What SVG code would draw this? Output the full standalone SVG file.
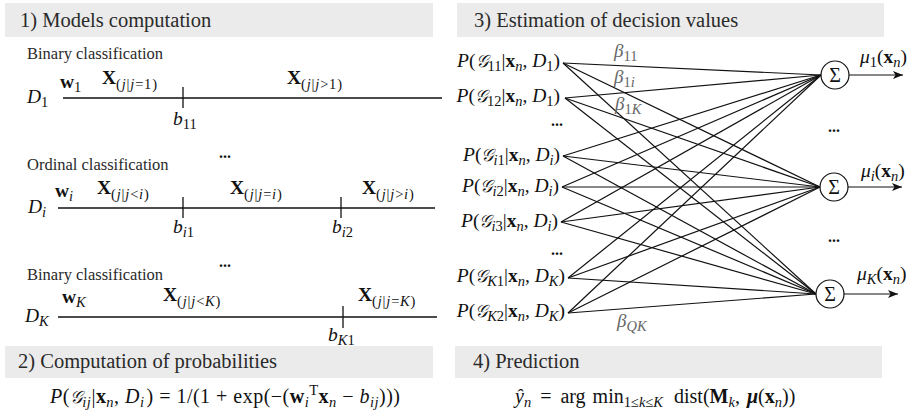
<svg xmlns="http://www.w3.org/2000/svg" width="915" height="417" viewBox="0 0 915 417">
<style>
text{font-family:"Liberation Serif","Times New Roman",serif;fill:#111}
.bar{fill:#ebebeb}
.t{font-size:20.5px;fill:#2a2a2a}
.s{font-size:16.5px;fill:#2a2a2a}
.m{font-size:19.5px}
.i{font-style:italic}
.bf{font-weight:bold}
.sn{font-size:14.5px;font-style:normal}
.si{font-size:14.5px;font-style:italic}
.sp{letter-spacing:0.8px}
.cal{font-family:"DejaVu Sans","Noto Sans",sans-serif;font-style:italic;font-size:17.5px}
.dots{font-size:16px;font-weight:bold}
.beta{font-size:19px;font-style:italic;fill:#666}
.ln{stroke:#111;stroke-width:1.3;fill:none}
.cn{stroke:#111;stroke-width:1.2;fill:none}
.sum{fill:#fff;stroke:#111;stroke-width:1.2}
</style>
<defs>
<marker id="ah" viewBox="0 0 10 8" refX="10" refY="4" markerWidth="10" markerHeight="8" markerUnits="userSpaceOnUse" orient="auto">
<path d="M0,0 L10,4 L0,8 L2.5,4 z" fill="#111"/>
</marker>
</defs>

<!-- header bars -->
<g id="panel1-title"><rect class="bar" x="5" y="3" width="428" height="34"/><text class="t" x="20" y="27">1) Models computation</text></g>
<g id="panel3-title"><rect class="bar" x="457" y="3" width="427" height="34"/><text class="t" x="474" y="27">3) Estimation of decision values</text></g>
<g id="panel2-title"><rect class="bar" x="5" y="346" width="428" height="32"/><text class="t" x="18" y="368">2) Computation of probabilities</text></g>
<g id="panel4-title"><rect class="bar" x="455" y="346" width="427" height="32"/><text class="t" x="473" y="368">4) Prediction</text></g>

<!-- model D1 -->
<g id="model-D1">
<text class="s" x="27" y="59">Binary classification</text>
<line class="ln" x1="63" y1="98" x2="442" y2="98"/>
<line class="ln" x1="183" y1="87" x2="183" y2="108"/>
<text class="m" x="27" y="103"><tspan class="i">D</tspan><tspan class="sn" dy="4">1</tspan></text>
<text class="m" x="60" y="88"><tspan class="bf">w</tspan><tspan class="sn" dy="4">1</tspan></text>
<text class="m" x="102" y="84"><tspan class="bf">X</tspan><tspan class="sn sp" dy="5">(<tspan class="i">j</tspan>|<tspan class="i">j</tspan>=1)</tspan></text>
<text class="m" x="287" y="84"><tspan class="bf">X</tspan><tspan class="sn sp" dy="5">(<tspan class="i">j</tspan>|<tspan class="i">j</tspan>&gt;1)</tspan></text>
<text class="m" x="173" y="125"><tspan class="i">b</tspan><tspan class="sn" dy="4">11</tspan></text>
</g>
<text class="dots" x="219" y="158">...</text>

<!-- model Di -->
<g id="model-Di">
<text class="s" x="27" y="170">Ordinal classification</text>
<line class="ln" x1="58" y1="208" x2="435" y2="208"/>
<line class="ln" x1="183" y1="197" x2="183" y2="218"/>
<line class="ln" x1="341" y1="197" x2="341" y2="218"/>
<text class="m" x="28" y="213"><tspan class="i">D</tspan><tspan class="si" dy="4">i</tspan></text>
<text class="m" x="55" y="197"><tspan class="bf">w</tspan><tspan class="si" dy="4">i</tspan></text>
<text class="m" x="97" y="194"><tspan class="bf">X</tspan><tspan class="sn sp" dy="5">(<tspan class="i">j</tspan>|<tspan class="i">j</tspan>&lt;<tspan class="i">i</tspan>)</tspan></text>
<text class="m" x="230" y="194"><tspan class="bf">X</tspan><tspan class="sn sp" dy="5">(<tspan class="i">j</tspan>|<tspan class="i">j</tspan>=<tspan class="i">i</tspan>)</tspan></text>
<text class="m" x="362" y="194"><tspan class="bf">X</tspan><tspan class="sn sp" dy="5">(<tspan class="i">j</tspan>|<tspan class="i">j</tspan>&gt;<tspan class="i">i</tspan>)</tspan></text>
<text class="m" x="173" y="233"><tspan class="i">b</tspan><tspan class="sn" dy="4"><tspan class="i">i</tspan>1</tspan></text>
<text class="m" x="332" y="233"><tspan class="i">b</tspan><tspan class="sn" dy="4"><tspan class="i">i</tspan>2</tspan></text>
</g>
<text class="dots" x="219" y="267">...</text>

<!-- model DK -->
<g id="model-DK">
<text class="s" x="27" y="280">Binary classification</text>
<line class="ln" x1="58" y1="317" x2="437" y2="317"/>
<line class="ln" x1="343" y1="306" x2="343" y2="328"/>
<text class="m" x="25" y="322"><tspan class="i">D</tspan><tspan class="si" dy="4">K</tspan></text>
<text class="m" x="62" y="303"><tspan class="bf">w</tspan><tspan class="si" dy="4">K</tspan></text>
<text class="m" x="163" y="301"><tspan class="bf">X</tspan><tspan class="sn sp" dy="5">(<tspan class="i">j</tspan>|<tspan class="i">j</tspan>&lt;<tspan class="i">K</tspan>)</tspan></text>
<text class="m" x="358" y="301"><tspan class="bf">X</tspan><tspan class="sn sp" dy="5">(<tspan class="i">j</tspan>|<tspan class="i">j</tspan>=<tspan class="i">K</tspan>)</tspan></text>
<text class="m" x="328" y="341"><tspan class="i">b</tspan><tspan class="sn" dy="4"><tspan class="i">K</tspan>1</tspan></text>
</g>

<!-- formula 2 -->
<g id="formula-prob">
<text class="m" x="50" y="403" style="font-size:20px" textLength="350" lengthAdjust="spacing"><tspan class="i">P</tspan>(<tspan class="cal">𝒢</tspan><tspan class="si" dy="4">ij</tspan><tspan dy="-4">|</tspan><tspan class="bf">x</tspan><tspan class="si" dy="4">n</tspan><tspan dy="-4">, </tspan><tspan class="i">D</tspan><tspan class="si" dy="4">i</tspan><tspan dy="-4" dx="2">)  =  1/(1  +  exp(−(</tspan><tspan class="bf">w</tspan><tspan class="si" dy="4">i</tspan><tspan class="sn" dy="-12">T</tspan><tspan class="bf" dy="8">x</tspan><tspan class="si" dy="4">n</tspan><tspan dy="-4">  −  </tspan><tspan class="i">b</tspan><tspan class="si" dy="4">ij</tspan><tspan dy="-4">)))</tspan></text>
</g>

<!-- formula 4 -->
<g id="formula-pred">
<text class="m" x="515" y="403" style="font-size:20px"><tspan class="i">ŷ</tspan><tspan class="si" dy="4">n</tspan><tspan dy="-4" dx="4"> = </tspan><tspan dx="4">arg</tspan><tspan dx="2"> min</tspan><tspan class="sn" dy="4">1≤<tspan class="i">k</tspan>≤<tspan class="i">K</tspan></tspan><tspan dy="-4" dx="6"> dist(</tspan><tspan class="bf">M</tspan><tspan class="si" dy="4">k</tspan><tspan dy="-4">, </tspan><tspan class="bf i" dx="2">μ</tspan>(<tspan class="bf">x</tspan><tspan class="si" dy="4">n</tspan><tspan dy="-4">))</tspan></text>
</g>

<!-- connectors -->
<g id="connectors">
<line class="cn" x1="563" y1="63" x2="821" y2="75"/>
<line class="cn" x1="563" y1="63" x2="820" y2="187"/>
<line class="cn" x1="563" y1="63" x2="816" y2="294"/>
<line class="cn" x1="565" y1="98" x2="821" y2="75"/>
<line class="cn" x1="565" y1="98" x2="820" y2="187"/>
<line class="cn" x1="565" y1="98" x2="816" y2="294"/>
<line class="cn" x1="563" y1="156" x2="821" y2="75"/>
<line class="cn" x1="563" y1="156" x2="820" y2="187"/>
<line class="cn" x1="563" y1="156" x2="816" y2="294"/>
<line class="cn" x1="562" y1="187" x2="821" y2="75"/>
<line class="cn" x1="562" y1="187" x2="820" y2="187"/>
<line class="cn" x1="562" y1="187" x2="816" y2="294"/>
<line class="cn" x1="561" y1="222" x2="821" y2="75"/>
<line class="cn" x1="561" y1="222" x2="820" y2="187"/>
<line class="cn" x1="561" y1="222" x2="816" y2="294"/>
<line class="cn" x1="568" y1="278" x2="821" y2="75"/>
<line class="cn" x1="568" y1="278" x2="820" y2="187"/>
<line class="cn" x1="568" y1="278" x2="816" y2="294"/>
<line class="cn" x1="568" y1="313" x2="821" y2="75"/>
<line class="cn" x1="568" y1="313" x2="820" y2="187"/>
<line class="cn" x1="568" y1="313" x2="816" y2="294"/>
<line class="cn" x1="849" y1="75" x2="903" y2="75" marker-end="url(#ah)"/>
<line class="cn" x1="848" y1="187" x2="902" y2="187" marker-end="url(#ah)"/>
<line class="cn" x1="844" y1="294" x2="898" y2="294" marker-end="url(#ah)"/>
<text class="beta" x="614" y="57">β<tspan class="sn" dy="4">11</tspan></text>
<text class="beta" x="614" y="83">β<tspan class="sn" dy="4">1<tspan class="i">i</tspan></tspan></text>
<text class="beta" x="615" y="110">β<tspan class="sn" dy="4">1<tspan class="i">K</tspan></tspan></text>
<text class="beta" x="617" y="327">β<tspan class="sn" dy="4"><tspan class="i">QK</tspan></tspan></text>
</g>

<!-- source nodes -->
<g id="node-G11"><text class="m" x="560" y="67" text-anchor="end"><tspan class="i">P</tspan>(<tspan class="cal">𝒢</tspan><tspan class="sn" dy="4">11</tspan><tspan dy="-4">|</tspan><tspan class="bf">x</tspan><tspan class="si" dy="4">n</tspan><tspan dy="-4">, </tspan><tspan class="i">D</tspan><tspan class="sn" dy="4">1</tspan><tspan dy="-4">)</tspan></text></g>
<g id="node-G12"><text class="m" x="560" y="102" text-anchor="end"><tspan class="i">P</tspan>(<tspan class="cal">𝒢</tspan><tspan class="sn" dy="4">12</tspan><tspan dy="-4">|</tspan><tspan class="bf">x</tspan><tspan class="si" dy="4">n</tspan><tspan dy="-4">, </tspan><tspan class="i">D</tspan><tspan class="sn" dy="4">1</tspan><tspan dy="-4">)</tspan></text></g>
<text class="dots" x="551" y="126">...</text>
<g id="node-Gi1"><text class="m" x="560" y="161" text-anchor="end"><tspan class="i">P</tspan>(<tspan class="cal">𝒢</tspan><tspan class="sn" dy="4"><tspan class="i">i</tspan>1</tspan><tspan dy="-4">|</tspan><tspan class="bf">x</tspan><tspan class="si" dy="4">n</tspan><tspan dy="-4">, </tspan><tspan class="i">D</tspan><tspan class="si" dy="4">i</tspan><tspan dy="-4">)</tspan></text></g>
<g id="node-Gi2"><text class="m" x="559" y="192" text-anchor="end"><tspan class="i">P</tspan>(<tspan class="cal">𝒢</tspan><tspan class="sn" dy="4"><tspan class="i">i</tspan>2</tspan><tspan dy="-4">|</tspan><tspan class="bf">x</tspan><tspan class="si" dy="4">n</tspan><tspan dy="-4">, </tspan><tspan class="i">D</tspan><tspan class="si" dy="4">i</tspan><tspan dy="-4">)</tspan></text></g>
<g id="node-Gi3"><text class="m" x="558" y="227" text-anchor="end"><tspan class="i">P</tspan>(<tspan class="cal">𝒢</tspan><tspan class="sn" dy="4"><tspan class="i">i</tspan>3</tspan><tspan dy="-4">|</tspan><tspan class="bf">x</tspan><tspan class="si" dy="4">n</tspan><tspan dy="-4">, </tspan><tspan class="i">D</tspan><tspan class="si" dy="4">i</tspan><tspan dy="-4">)</tspan></text></g>
<text class="dots" x="551" y="255">...</text>
<g id="node-GK1"><text class="m" x="565" y="282" text-anchor="end"><tspan class="i">P</tspan>(<tspan class="cal">𝒢</tspan><tspan class="sn" dy="4"><tspan class="i">K</tspan>1</tspan><tspan dy="-4">|</tspan><tspan class="bf">x</tspan><tspan class="si" dy="4">n</tspan><tspan dy="-4">, </tspan><tspan class="i">D</tspan><tspan class="si" dy="4">K</tspan><tspan dy="-4">)</tspan></text></g>
<g id="node-GK2"><text class="m" x="565" y="317" text-anchor="end"><tspan class="i">P</tspan>(<tspan class="cal">𝒢</tspan><tspan class="sn" dy="4"><tspan class="i">K</tspan>2</tspan><tspan dy="-4">|</tspan><tspan class="bf">x</tspan><tspan class="si" dy="4">n</tspan><tspan dy="-4">, </tspan><tspan class="i">D</tspan><tspan class="si" dy="4">K</tspan><tspan dy="-4">)</tspan></text></g>

<!-- sum nodes -->
<g id="sum-1"><circle class="sum" cx="835" cy="75" r="14"/><text x="835" y="82" text-anchor="middle" font-size="20">Σ</text><text class="m" x="860" y="63"><tspan class="i">μ</tspan><tspan class="sn" dy="4">1</tspan><tspan dy="-4">(</tspan><tspan class="bf">x</tspan><tspan class="si" dy="4">n</tspan><tspan dy="-4">)</tspan></text></g>
<text class="dots" x="828" y="132">...</text>
<g id="sum-i"><circle class="sum" cx="834" cy="187" r="14"/><text x="834" y="194" text-anchor="middle" font-size="20">Σ</text><text class="m" x="861" y="177"><tspan class="i">μ</tspan><tspan class="si" dy="4">i</tspan><tspan dy="-4">(</tspan><tspan class="bf">x</tspan><tspan class="si" dy="4">n</tspan><tspan dy="-4">)</tspan></text></g>
<text class="dots" x="828" y="242">...</text>
<g id="sum-K"><circle class="sum" cx="830" cy="294" r="14"/><text x="830" y="301" text-anchor="middle" font-size="20">Σ</text><text class="m" x="857" y="280"><tspan class="i">μ</tspan><tspan class="si" dy="4">K</tspan><tspan dy="-4">(</tspan><tspan class="bf">x</tspan><tspan class="si" dy="4">n</tspan><tspan dy="-4">)</tspan></text></g>
</svg>
